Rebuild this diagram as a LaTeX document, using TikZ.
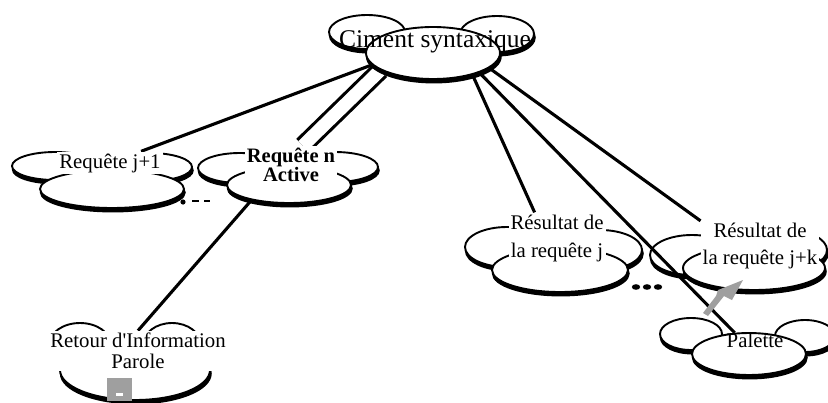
\documentclass[tikz,border=0pt]{standalone}
\usepackage{fontspec}
\setmainfont{Liberation Serif}
\usetikzlibrary{shapes.geometric,shadows,calc,backgrounds}
\begin{document}
\begin{tikzpicture}[x=1pt,y=-1pt,
  blob/.style={ellipse, draw=black, line width=1.9pt, fill=white, inner sep=0pt,
    copy shadow={shadow xshift=0.8pt, shadow yshift=-3.5pt, fill=black, draw=black}},
  link/.style={line width=3.1pt, black},
  tbox/.style={fill=white, inner sep=2pt, align=center, font=\fontsize{20.8}{24}\selectfont},
  plain/.style={inner sep=1pt, anchor=base, font=\fontsize{20.8}{24}\selectfont}]
\useasboundingbox (0,0) rectangle (828,402);

% Ciment syntaxique
\node[blob, minimum width=76, minimum height=34] (c-l) at (367,32) {};
\node[blob, minimum width=74, minimum height=36] (c-r) at (497,34) {};
\node[blob, minimum width=134, minimum height=52] (c-f) at (433,53) {};
\node[plain, inner sep=0pt, font=\fontsize{25.5}{30}\selectfont] (c) at (435,47) {Ciment syntaxique};

% Requete j+1
\node[blob, minimum width=86, minimum height=28] (j1-l) at (55,166) {};
\node[blob, minimum width=84, minimum height=28] (j1-r) at (150,167) {};
\node[blob, minimum width=144, minimum height=38] (j1-f) at (112,189) {};
\node[tbox, anchor=base] (j1) at (110,168) {Requête j+1};

% Requete n active
\node[blob, minimum width=84, minimum height=30] (n-l) at (240,168) {};
\node[blob, minimum width=86, minimum height=30] (n-r) at (335,167) {};
\node[blob, minimum width=124, minimum height=36] (n-f) at (289,185) {};
\node[tbox, font=\bfseries\fontsize{20.5}{18}\selectfont] (n) at (291,165) {Requête n\\Active};

% Resultat de la requete j
\node[blob, minimum width=84, minimum height=40] (rj-l) at (507,247) {};
\node[blob, minimum width=84, minimum height=40] (rj-r) at (600,250) {};
\node[blob, minimum width=136, minimum height=44] (rj-f) at (560,270) {};
\node[tbox, font=\fontsize{20.8}{28}\selectfont] (rj) at (557,238) {Résultat de\\la requête j};

% Resultat de la requete j+k
\node[blob, minimum width=84, minimum height=40] (rk-l) at (692,255) {};
\node[blob, minimum width=80, minimum height=40] (rk-r) at (787,250) {};
\node[blob, minimum width=142, minimum height=44] (rk-f) at (754,268) {};
\node[tbox, font=\fontsize{20.8}{27}\selectfont] (rk) at (760,246) {Résultat de\\la requête j+k};

% Palette
\node[blob, minimum width=62, minimum height=32] (pal-l) at (691,334) {};
\node[blob, minimum width=60, minimum height=32] (pal-r) at (805,336) {};
\node[blob, minimum width=114, minimum height=42] (pal-f) at (749,354) {};
\node[plain] (pal) at (755,347) {Palette};

% Retour d'information parole
\node[blob, minimum width=62, minimum height=44] (rt-l) at (80,345) {};
\node[blob, minimum width=58, minimum height=44] (rt-r) at (172,345) {};
\node[blob, minimum width=150, minimum height=60] (rt-f) at (135,370) {};
\node[tbox, font=\fontsize{20.8}{21.5}\selectfont, inner xsep=12pt] (rt) at (138,351) {Retour d\textquotesingle Information\\Parole};

% small grey button
\node[fill=gray!75, minimum width=25, minimum height=23, inner sep=0pt] (btn) at (119.5,389) {};
\fill[white] (116,393) rectangle (122.5,395.8);

% connectors running beneath the clouds
\begin{scope}[on background layer]
  \draw[link] (c-f.191) -- (j1);
  \draw[link, double, double distance=13pt] (c-f.198) -- ([xshift=12pt]n.north);
  \draw[link] (n-f.202) -- (rt.north);
  \draw[link] (c-f.331) -- ($(rj.north west)!0.27!(rj.north east)$);
  \draw[link] (c-f.345) -- (rk.north west);
\end{scope}
\draw[link] (c-f.337) -- (pal-f.124);

% grey bolt arrow
\fill[gray!75] (703,313) -- (716,296) -- (718,290) -- (743,280) -- (732,300)
  -- (724,296) -- (708,316) -- cycle;

% ellipsis marks
\fill (183,202) circle (2.6);
\draw[line width=2pt] (192,201) -- (199,201) (204,201) -- (210,201);
\fill (636,287) ellipse (4.2 and 2.8);
\fill (647,287) ellipse (4.2 and 2.8);
\fill (658,287) ellipse (4.2 and 2.8);
\end{tikzpicture}
\end{document}
